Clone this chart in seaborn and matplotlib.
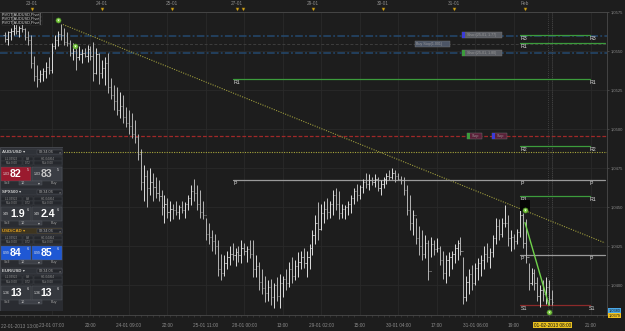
import matplotlib
matplotlib.use("Agg")
import matplotlib.pyplot as plt
import matplotlib.ticker as mticker
from matplotlib.patches import Rectangle
import pandas as pd
import seaborn as sns

# ---------------- data ----------------
first_bar = 2  # hourly bar index (0 = 22-01-2013 13:00)
first_open = 1.0560
highs = [
    1.0562, 1.0563, 1.0565, 1.0567, 1.0568, 1.0566, 1.0567, 1.0565, 1.0563, 1.0560,
    1.0547, 1.0541, 1.0538, 1.0539, 1.0543, 1.0546, 1.0555, 1.0560, 1.0563, 1.0567,
    1.0565, 1.0562, 1.0557, 1.0555, 1.0554, 1.0553, 1.0551, 1.0552, 1.0554, 1.0553,
    1.0556, 1.0552, 1.0549, 1.0544, 1.0546, 1.0549, 1.0533, 1.0528, 1.0527, 1.0524,
    1.0522, 1.0514, 1.0512, 1.0510, 1.0506, 1.0497, 1.0487, 1.0477, 1.0474, 1.0475,
    1.0472, 1.0469, 1.0467, 1.0461, 1.0458, 1.0456, 1.0454, 1.0452, 1.0454, 1.0451,
    1.0454, 1.0453, 1.0458, 1.0464, 1.0468, 1.0464, 1.0461, 1.0454, 1.0443, 1.0440,
    1.0435, 1.0433, 1.0429, 1.0420, 1.0419, 1.0422, 1.0425, 1.0427, 1.0424, 1.0425,
    1.0429, 1.0427, 1.0425, 1.0429, 1.0429, 1.0419, 1.0415, 1.0410, 1.0406, 1.0403,
    1.0404, 1.0401, 1.0405, 1.0407, 1.0406, 1.0410, 1.0415, 1.0418, 1.0416, 1.0421,
    1.0422, 1.0424, 1.0422, 1.0426, 1.0435, 1.0445, 1.0453, 1.0452, 1.0454, 1.0456,
    1.0454, 1.0461, 1.0462, 1.0460, 1.0452, 1.0451, 1.0454, 1.0458, 1.0462, 1.0465,
    1.0464, 1.0468, 1.0472, 1.0471, 1.0469, 1.0471, 1.0469, 1.0467, 1.0469, 1.0472,
    1.0474, 1.0475, 1.0474, 1.0472, 1.0470, 1.0469, 1.0464, 1.0458, 1.0448, 1.0443,
    1.0438, 1.0435, 1.0432, 1.0429, 1.0431, 1.0429, 1.0430, 1.0425, 1.0422, 1.0419,
    1.0421, 1.0422, 1.0426, 1.0429, 1.0431, 1.0418, 1.0406, 1.0410, 1.0413, 1.0414,
    1.0417, 1.0419, 1.0425, 1.0427, 1.0424, 1.0432, 1.0443, 1.0442, 1.0443, 1.0451,
    1.0445, 1.0435, 1.0433, 1.0436, 1.0448, 1.0446, 1.0442, 1.0414, 1.0411, 1.0410,
    1.0405, 1.0400, 1.0403, 1.0405, 1.0403, 1.0397,
]
lows = [
    1.0556, 1.0554, 1.0557, 1.0560, 1.0561, 1.0559, 1.0562, 1.0557, 1.0554, 1.0539,
    1.0531, 1.0527, 1.0530, 1.0531, 1.0533, 1.0535, 1.0536, 1.0551, 1.0553, 1.0557,
    1.0554, 1.0553, 1.0547, 1.0544, 1.0538, 1.0544, 1.0542, 1.0546, 1.0543, 1.0544,
    1.0531, 1.0535, 1.0529, 1.0533, 1.0528, 1.0523, 1.0519, 1.0512, 1.0509, 1.0507,
    1.0504, 1.0501, 1.0497, 1.0494, 1.0491, 1.0480, 1.0461, 1.0454, 1.0450, 1.0458,
    1.0454, 1.0456, 1.0454, 1.0445, 1.0440, 1.0443, 1.0441, 1.0442, 1.0445, 1.0442,
    1.0446, 1.0443, 1.0448, 1.0451, 1.0454, 1.0448, 1.0443, 1.0442, 1.0429, 1.0426,
    1.0422, 1.0420, 1.0406, 1.0403, 1.0406, 1.0410, 1.0413, 1.0416, 1.0412, 1.0415,
    1.0414, 1.0419, 1.0415, 1.0417, 1.0405, 1.0405, 1.0397, 1.0394, 1.0389, 1.0390,
    1.0387, 1.0385, 1.0390, 1.0385, 1.0392, 1.0397, 1.0399, 1.0401, 1.0403, 1.0405,
    1.0410, 1.0411, 1.0405, 1.0410, 1.0419, 1.0426, 1.0429, 1.0435, 1.0440, 1.0442,
    1.0443, 1.0445, 1.0448, 1.0442, 1.0443, 1.0442, 1.0445, 1.0446, 1.0452, 1.0454,
    1.0455, 1.0459, 1.0462, 1.0461, 1.0464, 1.0463, 1.0460, 1.0458, 1.0462, 1.0465,
    1.0467, 1.0468, 1.0466, 1.0467, 1.0465, 1.0458, 1.0445, 1.0435, 1.0432, 1.0426,
    1.0419, 1.0416, 1.0417, 1.0403, 1.0418, 1.0419, 1.0421, 1.0413, 1.0404, 1.0401,
    1.0406, 1.0410, 1.0414, 1.0416, 1.0419, 1.0388, 1.0390, 1.0394, 1.0397, 1.0400,
    1.0403, 1.0406, 1.0410, 1.0415, 1.0411, 1.0418, 1.0426, 1.0429, 1.0431, 1.0437,
    1.0425, 1.0422, 1.0423, 1.0426, 1.0431, 1.0424, 1.0414, 1.0397, 1.0400, 1.0397,
    1.0390, 1.0386, 1.0390, 1.0388, 1.0387, 1.0387,
]
closes = [
    1.0558, 1.0562, 1.0563, 1.0565, 1.0563, 1.0565, 1.0564, 1.0559, 1.0557, 1.0542,
    1.0534, 1.0532, 1.0535, 1.0537, 1.0540, 1.0538, 1.0553, 1.0557, 1.0561, 1.0560,
    1.0556, 1.0555, 1.0549, 1.0550, 1.0546, 1.0548, 1.0549, 1.0547, 1.0551, 1.0547,
    1.0536, 1.0548, 1.0536, 1.0539, 1.0542, 1.0527, 1.0522, 1.0518, 1.0512, 1.0515,
    1.0508, 1.0504, 1.0502, 1.0497, 1.0495, 1.0484, 1.0466, 1.0470, 1.0462, 1.0466,
    1.0463, 1.0459, 1.0457, 1.0450, 1.0452, 1.0447, 1.0449, 1.0448, 1.0447, 1.0450,
    1.0448, 1.0452, 1.0456, 1.0460, 1.0459, 1.0452, 1.0447, 1.0445, 1.0433, 1.0431,
    1.0428, 1.0425, 1.0410, 1.0408, 1.0414, 1.0418, 1.0420, 1.0419, 1.0421, 1.0419,
    1.0424, 1.0422, 1.0423, 1.0420, 1.0410, 1.0412, 1.0402, 1.0398, 1.0395, 1.0399,
    1.0392, 1.0400, 1.0393, 1.0401, 1.0404, 1.0401, 1.0410, 1.0406, 1.0412, 1.0415,
    1.0418, 1.0414, 1.0418, 1.0424, 1.0432, 1.0440, 1.0436, 1.0446, 1.0449, 1.0447,
    1.0452, 1.0458, 1.0452, 1.0446, 1.0449, 1.0450, 1.0452, 1.0456, 1.0460, 1.0458,
    1.0463, 1.0466, 1.0465, 1.0467, 1.0466, 1.0468, 1.0462, 1.0465, 1.0468, 1.0470,
    1.0469, 1.0472, 1.0470, 1.0468, 1.0467, 1.0461, 1.0448, 1.0440, 1.0445, 1.0430,
    1.0425, 1.0420, 1.0427, 1.0409, 1.0426, 1.0423, 1.0424, 1.0416, 1.0408, 1.0416,
    1.0418, 1.0420, 1.0424, 1.0427, 1.0422, 1.0392, 1.0402, 1.0407, 1.0401, 1.0411,
    1.0414, 1.0416, 1.0420, 1.0418, 1.0421, 1.0430, 1.0438, 1.0433, 1.0440, 1.0440,
    1.0430, 1.0431, 1.0428, 1.0434, 1.0445, 1.0427, 1.0418, 1.0401, 1.0408, 1.0401,
    1.0393, 1.0397, 1.0394, 1.0399, 1.0391, 1.0389,
]
price_ticks = [1.0400, 1.0425, 1.0450, 1.0475, 1.0500, 1.0525, 1.0550, 1.0575]
time_labels = ["23-01 07:00", "20:00", "24-01 09:00", "22:00", "25-01 11:00",
               "28-01 00:00", "13:00", "29-01 02:00", "15:00", "30-01 04:00",
               "17:00", "31-01 06:00", "19:00", "01-02-2013 08:00", "21:00"]
time_label_bars = [18, 31, 44, 57, 70, 83, 96, 109, 122, 135, 148, 161, 174, 187, 200]
first_time_label = "22-01-2013 13:00"
day_labels = ["23-01", "24-01", "25-01", "27-01", "29-01", "30-01", "31-01", "Feb"]
day_label_bars = [11.2, 34.9, 58.6, 80.5, 106.2, 129.8, 153.8, 177.8]
event_bars = [11.2, 34.9, 58.6, 80.5, 82.5, 106.2, 129.8, 153.8, 177.8]

pivot_names = ["R3", "R1", "R1", "R2", "P", "R1", "P", "S1"]
pivot_values = [1.0560, 1.0555, 1.0532, 1.0489, 1.0467, 1.0457, 1.0419, 1.0387]
order_levels = [1.05596, 1.05487]          # blue dash-dot order lines
entry_level = 1.05545                      # grey dashed line
stop_level = 1.04955                       # red dashed stop line
target_level = 1.04853                     # yellow dotted line
trend_bars = [21.7, 204.8]
trend_prices = [1.0567, 1.0427]
sell_bars = [177.8, 185.9]
sell_prices = [1.0440, 1.0387]
signal_bars = [20.0, 25.8, 177.8, 186.0]
signal_prices = [1.0570, 1.0553, 1.0448, 1.0383]
bid_price, ask_price = "1,0380", "1,0379"

widget_symbols = ["AUD/USD", "SPX500", "USD/CAD", "EUR/USD"]
widget_sell = ["82", "1.9", "84", "13"]
widget_buy = ["83", "2.4", "85", "13"]
widget_prefix = ["1.03", "149", "0.99", "1.36"]

# ---------------- style ----------------
BG = "#1d1d1d"
TXT = "#8c8c8c"
sns.set_theme(style="dark", rc={"axes.facecolor": BG, "figure.facecolor": BG,
                                "grid.color": "#2a2a2a", "axes.edgecolor": "#4a4a4a"})
plt.rcParams["font.family"] = ["Liberation Sans", "DejaVu Sans"]

W, H = 625, 331
fig = plt.figure(figsize=(W / 100, H / 100), dpi=100)


def px_axes(x0, y0, x1, y1, **kw):
    return fig.add_axes([x0 / W, 1 - y1 / H, (x1 - x0) / W, (y1 - y0) / H], **kw)


def xi(px):
    return (px + 1.3) / 2.96


def pp(py):
    return 1.0575 - (py - 12) * 0.0000641


ax = px_axes(0, 12, 607, 315)
ax.set_facecolor(BG)
ax.set_xlim(xi(0), xi(607))
ax.set_ylim(pp(315), pp(12))

# grid
ax.set_yticks(price_ticks)
ax.set_xticks(time_label_bars)
ax.grid(True, color="#2a2a2a", lw=0.6)
ax.set_axisbelow(True)

# horizontal order / level lines
for lv in order_levels:
    ax.axhline(lv, color="#24496e", lw=1.1, ls=(0, (5, 1.5, 1.2, 1.5)), zorder=1)
ax.axhline(entry_level, color="#3e3e3e", lw=0.7, ls=(0, (3, 2)), zorder=1)
ax.axhline(stop_level, color="#a02828", lw=0.9, ls=(0, (3, 1.5)), zorder=1)
ax.axhline(target_level, color="#a8a63c", lw=0.8, ls=(0, (1, 1.2)), zorder=1)

# vertical cursor lines
for b in (185.6, 186.9):
    ax.axvline(b, color="#4a4a4a", lw=0.6, ls=(0, (1, 1.5)), zorder=1)

# OHLC bars
bars = pd.DataFrame({"bar": range(first_bar, first_bar + len(highs)),
                     "high": highs, "low": lows, "close": closes})
bars["open"] = bars["close"].shift(1).fillna(first_open)
up = bars["close"] >= bars["open"]
for mask, col in ((up, "#dedede"), (~up, "#b4b4b4")):
    sub = bars[mask]
    ax.vlines(sub["bar"], sub["low"], sub["high"], color=col, lw=0.7, zorder=3)
    ax.hlines(sub["open"], sub["bar"] - 0.38, sub["bar"], color=col, lw=0.5, zorder=3)
    ax.hlines(sub["close"], sub["bar"], sub["bar"] + 0.38, color=col, lw=0.5, zorder=3)

# trend line
sns.lineplot(x=trend_bars, y=trend_prices, ax=ax, color="#9c9a3c", lw=0.8,
             linestyle=(0, (1, 1.2)), zorder=2)

# pivot segments
piv_seg = [(176.1, 199.8, "#3c9c3c", True), (176.1, 204.8, "#3c9c3c", False),
           (79.2, 199.8, "#3c9c3c", True), (176.1, 199.8, "#3c9c3c", True),
           (79.2, 204.8, "#9a9a9a", True), (176.1, 199.8, "#3c9c3c", True),
           (176.1, 204.8, "#9a9a9a", True), (176.1, 199.8, "#8c2a2a", True)]
for name, val, (s, e, c, right) in zip(pivot_names, pivot_values, piv_seg):
    ax.plot([s, e], [val, val], color=c, lw=0.9, zorder=2)
    ax.text(s + 0.3, val - 0.00005, name, fontsize=3.8, color="#dcdcdc",
            va="top", ha="left", zorder=4)
    if right:
        ax.text(199.8 - 0.3, val - 0.00005, name, fontsize=3.8, color="#dcdcdc",
                va="top", ha="left", zorder=4)
ax.text(176.4, pivot_values[4] - 0.00005, "P", fontsize=3.8, color="#dcdcdc",
        va="top", ha="left", zorder=4)

# order boxes
boxes = [(156.5, 170.0, 32, 38, "#5a5d63", "#3b3bd8", "Short(25-01, 1.77)"),
         (140.6, 152.5, 41, 47, "#4c5566", None, "Buy Stop(1.001)"),
         (156.5, 170.0, 50, 56, "#5a5d63", "#3c9c3c", "Short(25-01, 1.80)"),
         (158.2, 163.3, 133, 139, "#5a2038", "#3c9c3c", "Stop"),
         (166.7, 171.7, 133, 139, "#5a2038", "#3b3bd8", "Stop")]
for s, e, y0, y1, fc, sq, label in boxes:
    ax.add_patch(Rectangle((s, pp(y1)), e - s, pp(y0) - pp(y1), facecolor=fc,
                           edgecolor="#777777", lw=0.3, zorder=4))
    tx = s + 0.4
    if sq:
        ax.add_patch(Rectangle((s, pp(y1)), 1.1, pp(y0) - pp(y1), facecolor=sq,
                               edgecolor="none", zorder=5))
        tx = s + 1.6
    ax.text(tx, (pp(y0) + pp(y1)) / 2, label, fontsize=2.6, color="#9a9a9a",
            va="center", ha="left", zorder=6)

# sell line and signal markers
ax.add_patch(Rectangle((xi(520), pp(211)), xi(530) - xi(520), pp(200) - pp(211),
                       facecolor="#050505", edgecolor="none", zorder=5))
sns.lineplot(x=sell_bars, y=sell_prices, ax=ax, color="#6fd24a", lw=1.0, zorder=6)
sns.scatterplot(x=signal_bars, y=signal_prices, ax=ax, color="#7cc940", s=14,
                edgecolor="#3d7a20", linewidth=0.4, zorder=7, clip_on=False)
sns.scatterplot(x=signal_bars, y=signal_prices, ax=ax, color="white", s=2,
                marker="v", linewidth=0, zorder=8, clip_on=False)

# pivot indicator labels top-left
for k in range(3):
    ax.text(xi(2), pp(15 + 4 * k), "PIVOT[AUDUSD,Pivot]", fontsize=2.8,
            color="#e0e0e0", va="center", ha="left", zorder=6,
            bbox=dict(facecolor="#111111", edgecolor="#555555", lw=0.2, pad=0.3))

# axes / ticks
ax.yaxis.tick_right()
ax.yaxis.set_major_formatter(mticker.FuncFormatter(lambda v, p: f"{v:.4f}".replace(".", ",")))
ax.tick_params(axis="y", labelsize=3.0, colors=TXT, length=1.5, width=0.5, pad=1.2,
               color="#555555")
ax.set_xticklabels(time_labels)
ax.tick_params(axis="x", labelsize=3.4, colors=TXT, length=1.5, width=0.5, pad=4,
               color="#555555")
ax.xaxis.set_minor_locator(mticker.MultipleLocator(2))
ax.tick_params(axis="x", which="minor", length=1.2, width=0.4, color="#444444",
               bottom=True)
for t in ax.get_xticklabels():
    if t.get_text() == "01-02-2013 08:00":
        t.set_color("#111111")
        t.set_bbox(dict(facecolor="#e8c020", edgecolor="none", pad=0.6))
ax.annotate(first_time_label, xy=(0, 0), xycoords="axes fraction",
            xytext=(1, -11), textcoords="offset pixels", fontsize=3.4, color=TXT,
            ha="left", va="center")
ax.spines["left"].set_visible(False)
for side in ("top", "bottom", "right"):
    ax.spines[side].set_color("#4a4a4a")
    ax.spines[side].set_linewidth(0.6)
ax.set_xlabel("")
ax.set_ylabel("")

# price boxes (bid/ask)
fig.text(609 / W, 1 - 311 / H, bid_price, fontsize=2.8, color="#111111", va="center",
         ha="left", bbox=dict(facecolor="#4aa8e8", edgecolor="none", pad=0.4))
fig.text(609 / W, 1 - 315.5 / H, ask_price, fontsize=2.8, color="#111111", va="center",
         ha="left", bbox=dict(facecolor="#f0c020", edgecolor="none", pad=0.4))

# ---------------- top date strip ----------------
top = px_axes(0, 0, 607, 12, sharex=ax)
top.set_facecolor("#1a1a1a")
top.set_ylim(12, 0)
top.axis("off")
for b, lab in zip(day_label_bars, day_labels):
    top.text(b, 3.2, lab, fontsize=3.4, color=TXT, ha="center", va="center")
top.scatter(event_bars, [8.6] * len(event_bars), marker="v", s=5, color="#d6a81c",
            edgecolor="#8a6a10", linewidth=0.3, zorder=3)

# ---------------- left trading widget panel ----------------
pax = px_axes(0, 147, 63, 311)
pax.set_xlim(0, 63)
pax.set_ylim(311, 147)
pax.axis("off")
pax.add_patch(Rectangle((0, 147), 63, 164, facecolor="#2a2c31", edgecolor="#50535a", lw=0.5))

tile_cols = [("#9a1a2e", "#3a3d44"), ("#35383e", "#35383e"),
             ("#1f58d4", "#1f58d4"), ("#35383e", "#35383e")]
tops = [149, 189, 228, 268]
for k, y0 in enumerate(tops):
    sym = widget_symbols[k]
    hdr_bg = "#3e3520" if sym == "USD/CAD" else "#2f3238"
    hdr_fc = "#e0a020" if sym == "USD/CAD" else "#d0d0d0"
    pax.add_patch(Rectangle((1, y0), 61, 6, facecolor=hdr_bg, edgecolor="#4a4d54", lw=0.3))
    pax.text(2, y0 + 3, sym + " \u25be", fontsize=3.2, color=hdr_fc, va="center",
             ha="left", fontweight="bold")
    pax.add_patch(Rectangle((37, y0 + 0.7), 24.5, 4.6, facecolor="#24262b",
                            edgecolor="#55585f", lw=0.3))
    pax.text(38.5, y0 + 3, "08:34:06", fontsize=2.7, color="#aaaaaa", va="center", ha="left")
    pax.text(60.5, y0 + 3, "\u00d7", fontsize=2.8, color="#aaaaaa", va="center", ha="right")
    for r in range(2):
        yy = y0 + 7.5 + r * 4.7
        for cx0, cw, txt in ((1, 21, "L:1.03922" if r == 0 else "Rsk:0.00"),
                             (23, 10, "8.8" if r == 0 else "0.72"),
                             (34, 28, "H:1.04464" if r == 0 else "Rsk:0.00")):
            pax.add_patch(Rectangle((cx0, yy), cw, 4.0, facecolor="#25272c",
                                    edgecolor="#474a50", lw=0.25))
            pax.text(cx0 + cw / 2, yy + 2, txt, fontsize=2.2, color="#8e8e8e",
                     ha="center", va="center")
    ty = y0 + 17.5
    for j, (cx0, val, col) in enumerate(((1, widget_sell[k], tile_cols[k][0]),
                                         (31.5, widget_buy[k], tile_cols[k][1]))):
        pax.add_patch(Rectangle((cx0, ty), 30, 14, facecolor=col, edgecolor="#5a5d64", lw=0.3))
        pax.text(cx0 + 2, ty + 7.5, widget_prefix[k], fontsize=2.5, color="#e0e0e0",
                 ha="left", va="center")
        pax.text(cx0 + 9, ty + 7.5, val, fontsize=7.6,
                 color="white" if col != "#3a3d44" else "#c8c8c8",
                 ha="left", va="center", fontweight="bold")
        pax.text(cx0 + 26.5, ty + 3.5, "5" if k == 0 else "6", fontsize=2.8, color="#e0e0e0",
                 ha="center", va="center")
    sy = ty + 16.5
    pax.text(7, sy, "Sell", fontsize=2.7, color="#9a9a9a", ha="center", va="center")
    pax.add_patch(Rectangle((19, sy - 2.2), 23, 4.4, facecolor="#3c3f46",
                            edgecolor="#5a5d64", lw=0.3))
    pax.text(21, sy, "10", fontsize=2.7, color="#bbbbbb", ha="left", va="center")
    pax.text(40, sy, "\u25be", fontsize=2.7, color="#bbbbbb", ha="right", va="center")
    pax.text(54, sy, "Buy", fontsize=2.7, color="#9a9a9a", ha="center", va="center")

fig.savefig("out.png", dpi=100, facecolor=BG)
